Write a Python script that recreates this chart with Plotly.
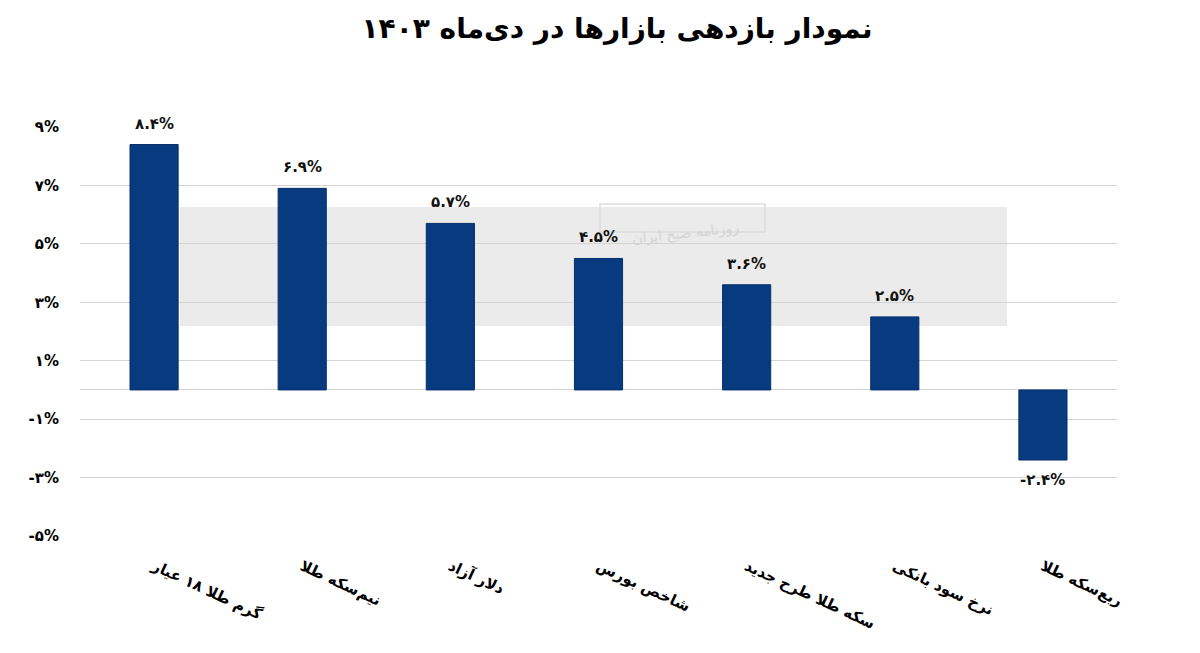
import plotly.graph_objects as go

categories = ["گرم طلا ۱۸ عیار", "نیم‌سکه طلا", "دلار آزاد", "شاخص بورس",
              "سکه طلا طرح جدید", "نرخ سود بانکی", "ربع‌سکه طلا"]
values = [8.4, 6.9, 5.7, 4.5, 3.6, 2.5, -2.4]
value_labels = ["۸.۴%", "۶.۹%", "۵.۷%", "۴.۵%", "۳.۶%", "۲.۵%", "-۲.۴%"]
tick_values = [9, 7, 5, 3, 1, -1, -3, -5]
tick_labels = ["۹%", "۷%", "۵%", "۳%", "۱%", "-۱%", "-۳%", "-۵%"]
title_text = "نمودار بازدهی بازارها در دی‌ماه ۱۴۰۳"

FONT = "DejaVu Sans"
BAR = "#083A80"

fig = go.Figure()
fig.add_trace(go.Bar(
    x=categories, y=values,
    marker=dict(color=BAR, line=dict(color="#062F6A", width=1)),
    cliponaxis=False,
))

for c, v, t in zip(categories, values, value_labels):
    fig.add_annotation(x=c, y=v, text="<b>" + t + "</b>", showarrow=False,
                       yshift=21 if v >= 0 else -20,
                       font=dict(family=FONT, size=15, color="#111111"))

W, H = 1200, 653
L, R, T, B = 80, 83, 127, 117
pw, ph = W - L - R, H - T - B

def px_x(x):
    return (x - L) / pw

def px_y(y):
    return (H - B - y) / ph

# watermark band
fig.add_shape(type="rect", xref="paper", yref="paper",
              x0=px_x(180), x1=px_x(1007), y0=px_y(326), y1=px_y(207),
              fillcolor="#EBEBEB", line=dict(width=0), layer="below")
fig.add_shape(type="rect", xref="paper", yref="paper",
              x0=px_x(600), x1=px_x(765), y0=px_y(232), y1=px_y(204),
              fillcolor="rgba(0,0,0,0)", line=dict(color="#DDDDDD", width=1.5), layer="below")
fig.add_annotation(xref="paper", yref="paper", x=px_x(685), y=px_y(217),
                   text="روزنامه صبح ایران", showarrow=False,
                   font=dict(family=FONT, size=14, color="#D4D4D4"), textangle=-6)

fig.update_layout(
    width=W, height=H,
    margin=dict(l=L, r=R, t=T, b=B),
    paper_bgcolor="white", plot_bgcolor="rgba(0,0,0,0)",
    showlegend=False,
    bargap=0.675,
    title=dict(text="<b>" + title_text + "</b>", x=617 / W, xanchor="center",
               y=1 - 28 / H, yanchor="middle", xref="container", yref="container",
               font=dict(family=FONT, size=28, color="#000000")),
    font=dict(family=FONT, color="#000000"),
)
fig.update_yaxes(range=[-5, 9], tickvals=tick_values,
                 ticktext=["<b>" + s + "</b>" for s in tick_labels],
                 showgrid=True, gridcolor="#D4D4D4", gridwidth=1,
                 zeroline=True, zerolinecolor="#D4D4D4", zerolinewidth=1,
                 showline=False, ticks="", ticklabelstandoff=20,
                 tickfont=dict(family=FONT, size=15, color="#000000"))
fig.update_xaxes(showgrid=False, showline=False, ticks="", tickangle=25,
                 ticklabelstandoff=18,
                 tickvals=categories,
                 ticktext=["<b>" + s + "</b>" for s in categories],
                 tickfont=dict(family=FONT, size=15, color="#000000"))

fig.write_html("out.html")
